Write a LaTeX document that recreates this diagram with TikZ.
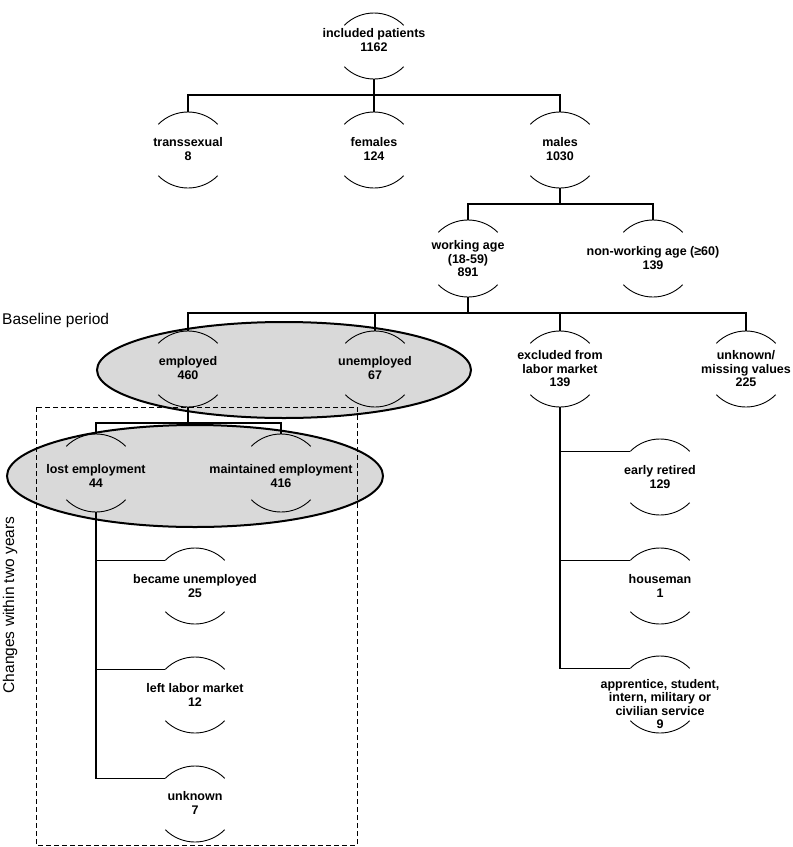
\documentclass[tikz,border=0pt]{standalone}
\usepackage{fontspec}
\setmainfont{Liberation Sans}
\tikzset{
  pnode/.style={font=\bfseries\fontsize{12.5}{13.5}\selectfont, align=center, inner sep=0pt},
  side/.style={font=\fontsize{15.5}{17}\selectfont, inner sep=0pt},
  arcline/.style={line width=0.9pt},
  link/.style={line width=1.1pt},
  oval/.style={draw=black, line width=2pt, fill=gray!30},
  frame/.style={line width=0.9pt, dash pattern=on 5pt off 3pt},
}

\begin{document}
\begin{tikzpicture}[x=1pt,y=1pt]
        \useasboundingbox (0,0) rectangle (793,-847);

        % groups
        \draw[oval] (284,-370) ellipse [x radius=187pt, y radius=48pt];
        \draw[oval] (195,-476) ellipse [x radius=188pt, y radius=51pt];
        \draw[frame] (36,-407) rectangle (357,-845);

        % side labels
        \node[side, anchor=west] (base) at (2,-320) {Baseline period};
        \node[side, rotate=90] (chg) at (10,-605) {Changes within two years};

        % counts
        \node[pnode] (incl) at (374,-40) {included patients\\1162};
        \node[pnode] (trans) at (188,-149) {transsexual\\8};
        \node[pnode] (fem) at (374,-149) {females\\124};
        \node[pnode] (male) at (560,-149) {males\\1030};
        \node[pnode] (work) at (468,-259) {working age\\(18-59)\\891};
        \node[pnode] (nonwork) at (653,-258) {non-working age (≥60)\\139};
        \node[pnode] (empl) at (188,-368) {employed\\460};
        \node[pnode] (unempl) at (375,-368) {unemployed\\67};
        \node[pnode] (excl) at (560,-369) {excluded from\\labor market\\139};
        \node[pnode] (unkn) at (746,-369) {unknown/\\missing values\\225};
        \node[pnode] (lost) at (96,-476) {lost employment\\44};
        \node[pnode] (maint) at (281,-476) {maintained employment\\416};
        \node[pnode] (became) at (195,-586) {became unemployed\\25};
        \node[pnode] (left) at (195,-695) {left labor market\\12};
        \node[pnode] (unk) at (195,-803) {unknown\\7};
        \node[pnode] (early) at (660,-477) {early retired\\129};
        \node[pnode] (house) at (660,-586) {houseman\\1};
        \node[pnode] (appr) at (660,-704) {apprentice, student,\\intern, military or\\civilian service\\9};

        % arcs above and below each count
        \foreach \n/\t/\b in {incl/13/79, trans/112/188, fem/112/188, male/112/188,
            work/220/297, nonwork/220/297, empl/331/407, unempl/331/407,
            excl/331/407, unkn/331/407, lost/434/512, maint/434/512,
            became/548/624, left/657/733, unk/766/842,
            early/439/515, house/548/624, appr/656/733}{
          \coordinate (\n-t) at (\n |- 0,-\t);
          \coordinate (\n-b) at (\n |- 0,-\b);
          \path (\n-t) ++(-29.7,-12.3) coordinate (\n-l);
          \draw[arcline] (\n-l) arc[start angle=135, end angle=45, radius=42pt];
          \draw[arcline] (\n-b) ++(-29.7,12.3) arc[start angle=-135, end angle=-45, radius=42pt];
        }

        % tree lines
        \coordinate (bus1) at (0,-95);
        \coordinate (bus2) at (0,-204);
        \coordinate (bus3) at (0,-313);
        \coordinate (bus4) at (0,-423);
        \draw[link] (trans-t) |- (male-t |- bus1) -- (male-t);
        \draw[link] (incl-b) -- (fem-t);
        \draw[link] (work-t) |- (nonwork-t |- bus2) -- (nonwork-t);
        \draw[link] (male-b) -- (male-b |- bus2);
        \draw[link] (empl-t) |- (unkn-t |- bus3) -- (unkn-t);
        \draw[link] (work-b) -- (work-b |- bus3);
        \draw[link] (unempl-t) -- (unempl-t |- bus3);
        \draw[link] (excl-t) -- (excl-t |- bus3);
        \draw[link] (lost-t) |- (maint-t |- bus4) -- (maint-t);
        \draw[link] (empl-b) -- (empl-b |- bus4);

        % side branches
        \draw[link] (lost-b) |- (unk-l);
        \draw[link] (lost-b |- became-l) -- (became-l);
        \draw[link] (lost-b |- left-l) -- (left-l);
        \draw[link] (excl-b) |- (appr-l);
        \draw[link] (excl-b |- early-l) -- (early-l);
        \draw[link] (excl-b |- house-l) -- (house-l);
    \end{tikzpicture}
\end{document}
